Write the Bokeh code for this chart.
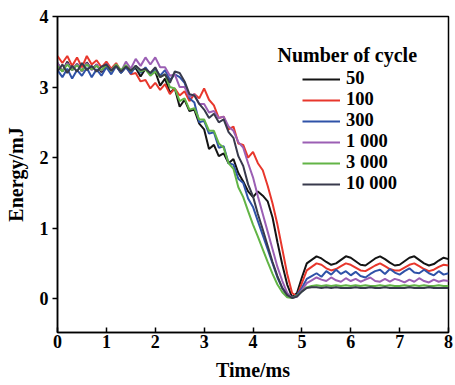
from bokeh.plotting import figure
from bokeh.models import Legend, LegendItem, Label, FixedTicker, Range1d
from bokeh.embed import file_html
from bokeh.resources import INLINE

# time grid, ms (0.0 .. 8.0, step 0.1)
time_ms = [i / 10 for i in range(81)]

cycles = ["50", "100", "300", "1 000", "3 000", "10 000"]

e_50 = [3.34, 3.22, 3.36, 3.24, 3.33, 3.22, 3.35, 3.25, 3.32, 3.21,
        3.31, 3.24, 3.30, 3.20, 3.29, 3.23, 3.27, 3.15, 3.26, 3.18,
        3.22, 3.02, 3.12, 2.92, 2.98, 2.72, 2.82, 2.66, 2.68, 2.48,
        2.40, 2.12, 2.18, 2.02, 2.06, 1.92, 1.98, 1.78, 1.66, 1.52,
        1.44, 1.52, 1.46, 1.38, 1.15, 0.80, 0.48, 0.20, 0.02, 0.08,
        0.30, 0.50, 0.55, 0.60, 0.57, 0.52, 0.48, 0.50, 0.55, 0.60,
        0.58, 0.53, 0.48, 0.47, 0.52, 0.57, 0.60, 0.56, 0.51, 0.47,
        0.48, 0.53, 0.58, 0.60, 0.55, 0.50, 0.47, 0.49, 0.54, 0.58,
        0.56]
e_100 = [3.44, 3.34, 3.44, 3.30, 3.42, 3.28, 3.44, 3.32, 3.38, 3.28,
         3.36, 3.26, 3.34, 3.22, 3.30, 3.18, 3.20, 3.08, 3.10, 2.98,
         3.06, 2.96, 3.04, 2.90, 2.98, 2.88, 2.94, 2.80, 2.90, 2.84,
         2.98, 2.82, 2.74, 2.56, 2.58, 2.40, 2.44, 2.20, 2.18, 2.00,
         2.08, 1.92, 1.82, 1.60, 1.35, 1.05, 0.70, 0.35, 0.08, 0.03,
         0.22, 0.40, 0.45, 0.50, 0.48, 0.43, 0.40, 0.42, 0.46, 0.50,
         0.48, 0.44, 0.40, 0.39, 0.43, 0.47, 0.50, 0.46, 0.42, 0.40,
         0.40, 0.44, 0.48, 0.50, 0.46, 0.42, 0.39, 0.41, 0.45, 0.48,
         0.47]
e_300 = [3.24, 3.14, 3.26, 3.12, 3.24, 3.16, 3.27, 3.14, 3.25, 3.16,
         3.28, 3.18, 3.30, 3.20, 3.28, 3.19, 3.30, 3.20, 3.28, 3.18,
         3.26, 3.16, 3.24, 3.10, 3.18, 3.14, 3.06, 2.84, 2.78, 2.50,
         2.52, 2.34, 2.36, 2.14, 2.16, 1.92, 1.90, 1.70, 1.64, 1.42,
         1.30, 1.10, 0.90, 0.70, 0.50, 0.30, 0.15, 0.05, 0.01, 0.05,
         0.15, 0.28, 0.32, 0.36, 0.31, 0.39, 0.34, 0.41, 0.35, 0.39,
         0.33, 0.38, 0.32, 0.30, 0.35, 0.39, 0.41, 0.35, 0.42, 0.37,
         0.34, 0.39, 0.43, 0.37, 0.36, 0.41, 0.36, 0.33, 0.39, 0.34,
         0.36]
e_1000 = [3.34, 3.22, 3.34, 3.24, 3.33, 3.22, 3.34, 3.24, 3.32, 3.23,
          3.33, 3.24, 3.32, 3.22, 3.36, 3.26, 3.40, 3.30, 3.42, 3.32,
          3.42, 3.28, 3.28, 3.16, 3.18, 3.00, 3.00, 2.86, 2.90, 2.76,
          2.76, 2.64, 2.66, 2.56, 2.58, 2.44, 2.38, 2.22, 2.14, 1.92,
          1.72, 1.45, 1.20, 0.95, 0.70, 0.45, 0.25, 0.08, 0.01, 0.03,
          0.12, 0.22, 0.26, 0.30, 0.27, 0.25, 0.30, 0.26, 0.24, 0.29,
          0.25, 0.28, 0.24, 0.27, 0.30, 0.25, 0.24, 0.28, 0.24, 0.28,
          0.26, 0.23, 0.27, 0.24, 0.29, 0.25, 0.23, 0.27, 0.24, 0.26,
          0.25]
e_3000 = [3.30, 3.22, 3.32, 3.24, 3.31, 3.23, 3.32, 3.25, 3.30, 3.24,
          3.31, 3.23, 3.32, 3.24, 3.31, 3.23, 3.30, 3.22, 3.25, 3.16,
          3.22, 3.14, 3.18, 3.00, 2.98, 2.80, 2.84, 2.68, 2.70, 2.54,
          2.54, 2.38, 2.38, 2.20, 2.14, 1.92, 1.84, 1.58, 1.44, 1.24,
          1.05, 0.88, 0.70, 0.52, 0.35, 0.20, 0.09, 0.02, 0.01, 0.04,
          0.10, 0.16, 0.18, 0.19, 0.18, 0.19, 0.18, 0.19, 0.18, 0.19,
          0.18, 0.19, 0.18, 0.19, 0.18, 0.18, 0.19, 0.18, 0.19, 0.18,
          0.18, 0.19, 0.18, 0.19, 0.18, 0.19, 0.18, 0.18, 0.19, 0.18,
          0.18]
e_10000 = [3.22, 3.32, 3.20, 3.30, 3.22, 3.34, 3.24, 3.30, 3.22, 3.29,
           3.32, 3.23, 3.30, 3.22, 3.29, 3.23, 3.30, 3.24, 3.26, 3.20,
           3.28, 3.14, 3.18, 3.06, 3.22, 3.20, 3.08, 2.90, 2.88, 2.76,
           2.68, 2.56, 2.62, 2.50, 2.54, 2.36, 2.28, 2.02, 1.88, 1.62,
           1.45, 1.20, 0.98, 0.75, 0.52, 0.32, 0.15, 0.05, 0.01, 0.03,
           0.10, 0.15, 0.16, 0.16, 0.15, 0.16, 0.15, 0.16, 0.15, 0.15,
           0.15, 0.16, 0.15, 0.15, 0.16, 0.15, 0.15, 0.16, 0.15, 0.15,
           0.15, 0.15, 0.16, 0.15, 0.15, 0.15, 0.16, 0.15, 0.15, 0.15,
           0.15]

series = [e_50, e_100, e_300, e_1000, e_3000, e_10000]
colors = ["#141414", "#e8372c", "#2f52a8", "#9b5fb4", "#62b446", "#383a4c"]

FONT = "Liberation Serif, Times New Roman, serif"

p = figure(width=455, height=385, output_backend="svg", toolbar_location=None,
           x_range=Range1d(0, 8), y_range=Range1d(-0.48, 4),
           min_border_left=57, min_border_right=7, min_border_top=16,
           min_border_bottom=53)
p.xgrid.visible = False
p.ygrid.visible = False
p.outline_line_color = "black"
p.outline_line_width = 1.5
p.background_fill_color = "white"
p.border_fill_color = "white"

renderers = []
for ys, c in zip(series, colors):
    r = p.line(time_ms, ys, line_color=c, line_width=2)
    renderers.append(r)

for ax in (p.xaxis[0], p.yaxis[0]):
    ax.axis_line_width = 1.5
    ax.major_tick_line_width = 1.5
    ax.minor_tick_line_color = None
    ax.major_label_text_font = FONT
    ax.major_label_text_font_style = "bold"
    ax.major_label_text_font_size = "18px"
    ax.major_label_text_color = "black"
    ax.axis_label_text_font = FONT
    ax.axis_label_text_font_style = "bold"
    ax.axis_label_text_font_size = "20px"
    ax.axis_label_text_color = "black"

p.xaxis.ticker = FixedTicker(ticks=[0, 1, 2, 3, 4, 5, 6, 7, 8])
p.xaxis.major_tick_in = 5
p.xaxis.major_tick_out = 0
p.xaxis.major_label_standoff = 2
p.xaxis.axis_label = "Time/ms"
p.xaxis.axis_label_standoff = 8

p.yaxis.ticker = FixedTicker(ticks=[0, 1, 2, 3, 4])
p.yaxis.major_tick_in = 0
p.yaxis.major_tick_out = 5
p.yaxis.major_label_standoff = 4
p.yaxis.axis_label = "Energy/mJ"
p.yaxis.axis_label_standoff = 10

items = [LegendItem(label=lab, renderers=[r]) for lab, r in zip(cycles, renderers)]
legend = Legend(items=items, location=(245, 138), padding=0, spacing=0,
                glyph_width=38, glyph_height=20, label_height=20,
                label_standoff=6, border_line_color=None,
                background_fill_alpha=0, label_text_font=FONT,
                label_text_font_style="bold", label_text_font_size="18.5px",
                label_text_color="black", margin=0)
p.add_layout(legend, "center")

p.add_layout(Label(x=4.5, y=3.45, text="Number of cycle", text_font=FONT,
                   text_font_style="bold", text_font_size="20px",
                   text_baseline="middle", text_color="black"))

open("out.html", "w").write(file_html(p, INLINE))
